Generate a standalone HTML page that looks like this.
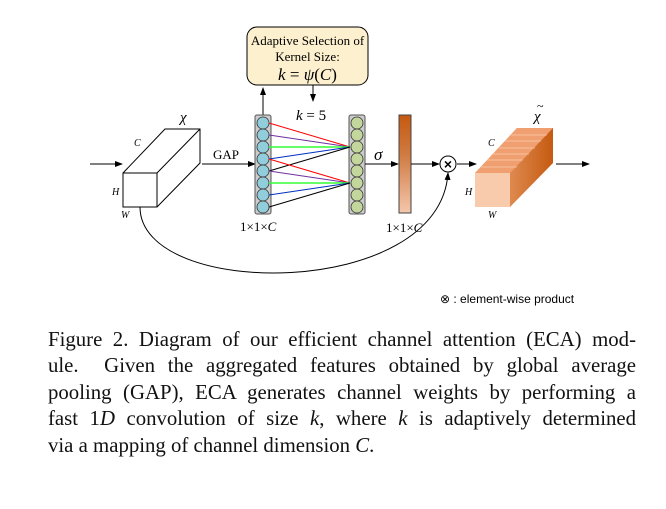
<!DOCTYPE html>
<html><head><style>
body{margin:0;background:#fff;width:666px;height:509px;overflow:hidden;position:relative;font-family:"Liberation Serif",serif}
.cap{position:absolute;left:48px;width:588px;font-size:20.8px;line-height:26.5px;text-align:justify;text-align-last:justify;color:#111;white-space:nowrap}
</style></head><body>
<svg width="666" height="320" style="position:absolute;left:0;top:0" font-family="Liberation Serif,serif">
<defs>
<marker id="a" markerWidth="8" markerHeight="6" refX="7" refY="3" orient="auto"><path d="M0,0L8,3L0,6z" fill="#000"/></marker>
<linearGradient id="g" x1="0" y1="0" x2="0" y2="1"><stop offset="0" stop-color="#c55a11"/><stop offset="0.4" stop-color="#d07a40"/><stop offset="1" stop-color="#f4c7ac"/></linearGradient>
<linearGradient id="s" x1="0" y1="0" x2="1" y2="0"><stop offset="0" stop-color="#f4b183"/><stop offset="1" stop-color="#c55a11"/></linearGradient>
</defs>
<rect x="247" y="27" width="121" height="58" rx="10" fill="#fdf0cf" stroke="#000"/>
<text x="307.5" y="45" font-size="13" text-anchor="middle">Adaptive Selection of</text>
<text x="307.5" y="61" font-size="13" text-anchor="middle">Kernel Size:</text>
<text x="307.5" y="80" font-size="17" text-anchor="middle"><tspan font-style="italic">k</tspan> = <tspan font-style="italic">ψ</tspan>(<tspan font-style="italic">C</tspan>)</text>
<line x1="263" y1="115" x2="263" y2="88" stroke="#000" marker-end="url(#a)"/>
<line x1="313" y1="85" x2="313" y2="101" stroke="#000" marker-end="url(#a)"/>
<text x="296" y="120" font-size="15"><tspan font-style="italic">k</tspan> = 5</text>
<path d="M123,173L165,129L200,129L200,163L157,207L123,207Z" fill="#fff" stroke="#000"/>
<path d="M123,173L157,173L200,129M157,173L157,207" fill="none" stroke="#000"/>
<text x="180" y="122" font-size="15" font-style="italic">χ</text>
<text x="134" y="146" font-size="10" font-style="italic">C</text>
<text x="112" y="195" font-size="10" font-style="italic">H</text>
<text x="121" y="218" font-size="10" font-style="italic">W</text>
<line x1="90" y1="164" x2="122" y2="164" stroke="#000" marker-end="url(#a)"/>
<line x1="202" y1="164" x2="255" y2="164" stroke="#000" marker-end="url(#a)"/>
<text x="213" y="159" font-size="13">GAP</text>
<rect x="255" y="115" width="16" height="99" fill="#ccc" stroke="#555" rx="2"/>
<rect x="349" y="115" width="16" height="99" fill="#ccc" stroke="#555" rx="2"/>
<g stroke="#333" stroke-width="0.8">
<circle cx="263" cy="123" r="6" fill="#92cddc"/><circle cx="263" cy="135" r="6" fill="#92cddc"/><circle cx="263" cy="147" r="6" fill="#92cddc"/><circle cx="263" cy="159" r="6" fill="#92cddc"/><circle cx="263" cy="171" r="6" fill="#92cddc"/><circle cx="263" cy="183" r="6" fill="#92cddc"/><circle cx="263" cy="195" r="6" fill="#92cddc"/><circle cx="263" cy="207" r="6" fill="#92cddc"/>
<circle cx="357" cy="123" r="6" fill="#c3d69b"/><circle cx="357" cy="135" r="6" fill="#c3d69b"/><circle cx="357" cy="147" r="6" fill="#c3d69b"/><circle cx="357" cy="159" r="6" fill="#c3d69b"/><circle cx="357" cy="171" r="6" fill="#c3d69b"/><circle cx="357" cy="183" r="6" fill="#c3d69b"/><circle cx="357" cy="195" r="6" fill="#c3d69b"/><circle cx="357" cy="207" r="6" fill="#c3d69b"/>
</g>
<g stroke-width="1">
<line x1="269" y1="123" x2="350" y2="147" stroke="#f00"/><line x1="269" y1="135" x2="350" y2="147" stroke="#7030a0"/><line x1="269" y1="147" x2="350" y2="147" stroke="#3f3" stroke-width="1.5"/><line x1="269" y1="159" x2="350" y2="147" stroke="#0030c0"/><line x1="269" y1="171" x2="350" y2="147" stroke="#000"/>
<line x1="269" y1="159" x2="350" y2="183" stroke="#f00"/><line x1="269" y1="171" x2="350" y2="183" stroke="#7030a0"/><line x1="269" y1="183" x2="350" y2="183" stroke="#3f3" stroke-width="1.5"/><line x1="269" y1="195" x2="350" y2="183" stroke="#0030c0"/><line x1="269" y1="207" x2="350" y2="183" stroke="#000"/>
</g>
<text x="240" y="231" font-size="13">1×1×<tspan font-style="italic">C</tspan></text>
<line x1="365" y1="164" x2="398" y2="164" stroke="#000" marker-end="url(#a)"/>
<text x="374" y="160" font-size="17" font-style="italic">σ</text>
<rect x="399" y="115" width="12" height="98" fill="url(#g)" stroke="#444"/>
<text x="386" y="232" font-size="13">1×1×<tspan font-style="italic">C</tspan></text>
<line x1="411" y1="164" x2="439" y2="164" stroke="#000" marker-end="url(#a)"/>
<circle cx="448" cy="164" r="8" fill="#fff" stroke="#000"/>
<text x="448" y="169" font-size="14" text-anchor="middle" font-weight="bold" font-family="Liberation Sans,sans-serif">×</text>
<line x1="457" y1="164" x2="476" y2="164" stroke="#000" marker-end="url(#a)"/>
<path d="M475,173L517,128L553,128L553,163L510,207Z" fill="url(#s)"/>
<path d="M475,173L517,128L553,128L510,173Z" fill="#f0a070"/>
<g stroke="#fbd5bb" stroke-width="0.7" opacity="0.8">
<line x1="481" y1="167" x2="517" y2="167"/><line x1="487" y1="160" x2="523" y2="160"/><line x1="493" y1="154" x2="529" y2="154"/><line x1="499" y1="148" x2="535" y2="148"/><line x1="505" y1="141" x2="541" y2="141"/><line x1="511" y1="135" x2="547" y2="135"/>
</g>
<rect x="475" y="173" width="35" height="34" fill="#f8cbad"/>
<text x="534" y="121" font-size="15" font-style="italic">χ</text>
<text x="537" y="110" font-size="12">~</text>
<text x="488" y="146" font-size="10" font-style="italic">C</text>
<text x="465" y="195" font-size="10" font-style="italic">H</text>
<text x="488" y="218" font-size="10" font-style="italic">W</text>
<line x1="556" y1="164" x2="589" y2="164" stroke="#000" marker-end="url(#a)"/>
<path d="M140,207C140,300 440,300 448,173" fill="none" stroke="#000" marker-end="url(#a)"/>
<text x="440" y="303" font-size="12" font-family="Liberation Sans,sans-serif">⊗ : element-wise product</text>
</svg>
<div class="cap" style="top:327px">Figure 2. Diagram of our efficient channel attention (ECA) mod-</div>
<div class="cap" style="top:353px">ule. &nbsp;Given the aggregated features obtained by global average</div>
<div class="cap" style="top:380px">pooling (GAP), ECA generates channel weights by performing a</div>
<div class="cap" style="top:406px">fast 1<i>D</i> convolution of size <i>k</i>, where <i>k</i> is adaptively determined</div>
<div class="cap" style="top:433px;text-align-last:left">via a mapping of channel dimension <i>C</i>.</div>
</body></html>
